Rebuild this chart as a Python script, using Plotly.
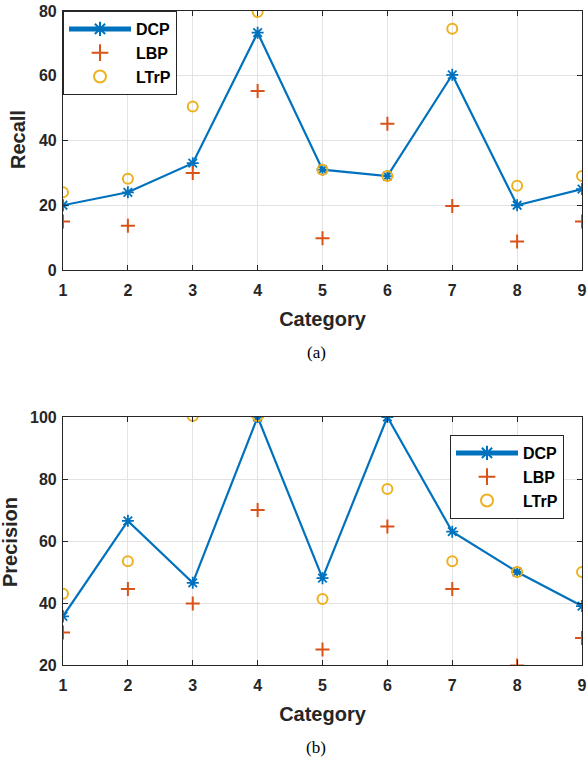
import plotly.graph_objects as go

categories = [1, 2, 3, 4, 5, 6, 7, 8, 9]

recall_dcp = [20, 24, 33, 73.3, 31, 29, 60.3, 20, 25]
recall_lbp = [15, 13.7, 30, 55.3, 9.8, 45.2, 19.8, 8.8, 15]
recall_ltrp = [24, 28.2, 50.5, 79.7, 31, 29, 74.5, 26, 29]

precision_dcp = [35.7, 66.5, 46.5, 100, 48, 100, 63, 50, 39]
precision_lbp = [30.5, 44.5, 39.8, 70, 25, 64.7, 44.5, 19.8, 28.7]
precision_ltrp = [43, 53.5, 100.3, 100.3, 41.3, 76.8, 53.5, 50, 50]

series_names = ["DCP", "LBP", "LTrP"]
colors = ["#0072BD", "#D95319", "#EDB120"]

fig = go.Figure()

def add_panel(vals, xa, ya, legend):
    d, l, t = vals
    fig.add_trace(go.Scatter(x=categories, y=d, name="<b>" + series_names[0] + "</b>", mode="lines+markers",
                             line=dict(color=colors[0], width=2.2),
                             marker=dict(symbol="asterisk-open", size=10, color=colors[0],
                                         line=dict(color=colors[0], width=1.8)),
                             xaxis=xa, yaxis=ya, legend=legend))
    fig.add_trace(go.Scatter(x=categories, y=l, name="<b>" + series_names[1] + "</b>", mode="markers",
                             marker=dict(symbol="cross-thin-open", size=10, color=colors[1],
                                         line=dict(color=colors[1], width=2)),
                             xaxis=xa, yaxis=ya, legend=legend))
    fig.add_trace(go.Scatter(x=categories, y=t, name="<b>" + series_names[2] + "</b>", mode="markers",
                             marker=dict(symbol="circle-open", size=10, color=colors[2],
                                         line=dict(color=colors[2], width=2)),
                             xaxis=xa, yaxis=ya, legend=legend))

add_panel((recall_dcp, recall_lbp, recall_ltrp), "x", "y", "legend")
add_panel((precision_dcp, precision_lbp, precision_ltrp), "x2", "y2", "legend2")

axis_font = dict(family="Liberation Sans, Arial", size=16, color="#262626")
title_font = dict(family="Liberation Sans, Arial", size=20, color="#262626")

common_ax = dict(
    showline=True, linecolor="#262626", linewidth=1.2, mirror="ticks",
    ticks="inside", ticklen=5, tickcolor="#262626",
    showgrid=True, gridcolor="#E3E3E3", gridwidth=1, zeroline=False,
    tickfont=axis_font, automargin=False, ticklabeloverflow="allow",
    tickprefix="<b>", ticksuffix="</b>",
)

legend_common = dict(bgcolor="white", bordercolor="#262626", borderwidth=1,
                     font=dict(family="Liberation Sans, Arial", size=16, color="#000000"),
                     itemsizing="constant", tracegroupgap=0, itemwidth=62)

xd = [63 / 587, 582 / 587]
fig.update_layout(
    template="none",
    width=587, height=762,
    margin=dict(l=0, r=0, t=0, b=0, autoexpand=False),
    paper_bgcolor="white", plot_bgcolor="white",
    xaxis=dict(domain=xd, anchor="y", range=[1, 9], dtick=1, ticklabelstandoff=6,
               title=dict(text="<b>Category</b>", font=title_font, standoff=13), **common_ax),
    yaxis=dict(domain=[1 - 270 / 762, 1 - 11 / 762], anchor="x", range=[0, 80], dtick=20,
               ticklabelstandoff=2, **common_ax),
    xaxis2=dict(domain=xd, anchor="y2", range=[1, 9], dtick=1, ticklabelstandoff=6,
                title=dict(text="<b>Category</b>", font=title_font, standoff=13), **common_ax),
    yaxis2=dict(domain=[1 - 665 / 762, 1 - 417 / 762], anchor="x2", range=[20, 100], dtick=20,
                ticklabelstandoff=2, **common_ax),
    legend=dict(x=63 / 587, y=1 - 11 / 762, xanchor="left", yanchor="top", **legend_common),
    legend2=dict(x=564 / 587, y=1 - 435 / 762, xanchor="right", yanchor="top", **legend_common),
    showlegend=True,
)

fig.add_annotation(text="<b>Recall</b>", x=18 / 587, y=1 - 140 / 762, xref="paper", yref="paper",
                   textangle=-90, xanchor="center", yanchor="middle", showarrow=False, font=title_font)
fig.add_annotation(text="<b>Precision</b>", x=10 / 587, y=1 - 542 / 762, xref="paper", yref="paper",
                   textangle=-90, xanchor="center", yanchor="middle", showarrow=False, font=title_font)

fig.add_annotation(text="(a)", x=316 / 587, y=1 - 353 / 762, xref="paper", yref="paper",
                   xanchor="center", yanchor="middle", showarrow=False,
                   font=dict(family="Liberation Serif, Times New Roman", size=17, color="#000"))
fig.add_annotation(text="(b)", x=316 / 587, y=1 - 747 / 762, xref="paper", yref="paper",
                   xanchor="center", yanchor="middle", showarrow=False,
                   font=dict(family="Liberation Serif, Times New Roman", size=17, color="#000"))

fig.write_html("out.html", config={"displayModeBar": False},
               post_script="document.body.style.margin='0';document.body.style.overflow='hidden';")
